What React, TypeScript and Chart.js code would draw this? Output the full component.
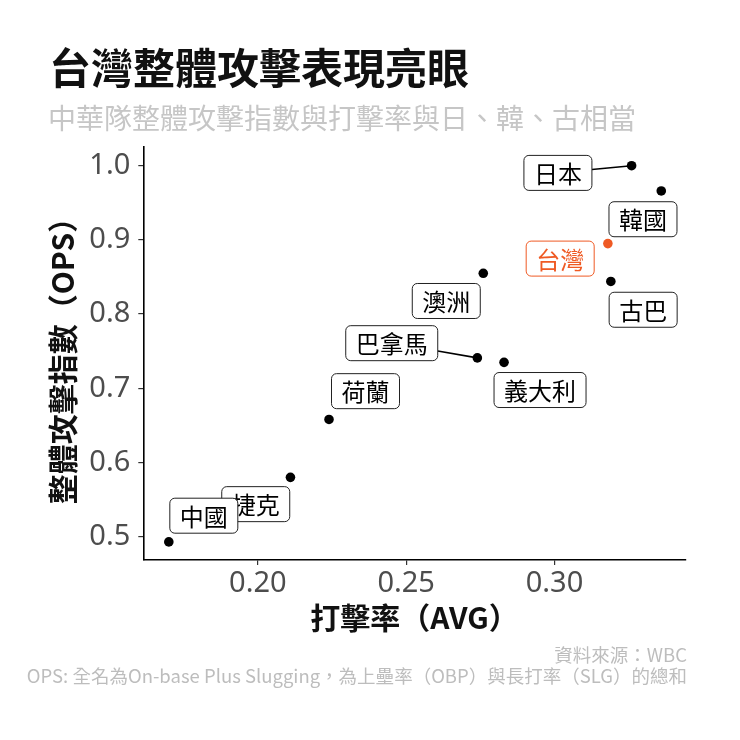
import React, { useEffect, useRef } from "react";
import { Chart, registerables } from "chart.js";

Chart.register(...registerables);

// WBC team batting: AVG vs OPS
const teams = ["日本", "韓國", "台灣", "古巴", "澳洲", "巴拿馬", "義大利", "荷蘭", "捷克", "中國"];
const avg = [0.326, 0.336, 0.318, 0.319, 0.276, 0.274, 0.283, 0.224, 0.211, 0.170];
const ops = [1.0, 0.966, 0.895, 0.844, 0.855, 0.741, 0.735, 0.658, 0.58, 0.493];
const highlight = "台灣";

const xTicks = [0.2, 0.25, 0.3];
const yTicks = [0.5, 0.6, 0.7, 0.8, 0.9, 1.0];

// label box offsets from the point (px), like ggrepel placed them
const labelOffsets: [number, number][] = [
  [-73.7, 7.2],
  [-18.3, 28.3],
  [-47.7, 15],
  [32.3, 28.3],
  [-37, 27.7],
  [-85.6, -14.7],
  [36, 27.7],
  [36.5, -28.3],
  [-34.7, 26.8],
  [35, -26.2],
];
const withSegment = ["日本", "巴拿馬"];

const ORANGE = "#EF5A24";
const CJK = "'Noto Sans CJK TC', 'Noto Sans', sans-serif";
const LABEL_FONT = `24px ${CJK}`;
const BOX_H = 35;

function boxFor(ctx: CanvasRenderingContext2D, i: number, px: number, py: number) {
  ctx.font = LABEL_FONT;
  const w = ctx.measureText(teams[i]).width + 20;
  const cx = px + labelOffsets[i][0];
  const cy = py + labelOffsets[i][1];
  return { cx, cy, w, h: BOX_H };
}

const labelPlugin = {
  id: "repelLabels",
  beforeDatasetsDraw(chart: any) {
    const { ctx, scales } = chart;
    ctx.save();
    teams.forEach((t, i) => {
      if (!withSegment.includes(t)) return;
      const px = scales.x.getPixelForValue(avg[i]);
      const py = scales.y.getPixelForValue(ops[i]);
      const b = boxFor(ctx, i, px, py);
      const dx = px - b.cx;
      const dy = py - b.cy;
      const s = Math.min(Math.abs(b.w / 2 / dx), Math.abs(b.h / 2 / dy));
      ctx.beginPath();
      ctx.moveTo(b.cx + dx * s, b.cy + dy * s);
      ctx.lineTo(px, py);
      ctx.strokeStyle = "#000";
      ctx.lineWidth = 1.6;
      ctx.stroke();
    });
    ctx.restore();
  },
  afterDatasetsDraw(chart: any) {
    const { ctx, scales } = chart;
    ctx.save();
    teams.forEach((t, i) => {
      const px = scales.x.getPixelForValue(avg[i]);
      const py = scales.y.getPixelForValue(ops[i]);
      const b = boxFor(ctx, i, px, py);
      const col = t === highlight ? ORANGE : "#000";
      ctx.beginPath();
      ctx.roundRect(b.cx - b.w / 2, b.cy - b.h / 2, b.w, b.h, 5);
      ctx.fillStyle = "#fff";
      ctx.fill();
      ctx.lineWidth = 1;
      ctx.strokeStyle = t === highlight ? ORANGE : "#222";
      ctx.stroke();
      ctx.fillStyle = col;
      ctx.textAlign = "center";
      ctx.textBaseline = "middle";
      ctx.fillText(t, b.cx, b.cy + 1);
    });
    ctx.restore();
  },
  afterDraw(chart: any) {
    const { ctx, chartArea } = chart;
    ctx.save();
    ctx.textBaseline = "middle";
    // title & subtitle
    ctx.textAlign = "left";
    ctx.fillStyle = "#111";
    ctx.font = `bold 42px ${CJK}`;
    ctx.fillText("台灣整體攻擊表現亮眼", 49, 68);
    ctx.fillStyle = "#c6c6c6";
    ctx.font = `28px ${CJK}`;
    ctx.fillText("中華隊整體攻擊指數與打擊率與日、韓、古相當", 48, 118);
    // axis titles
    ctx.fillStyle = "#111";
    ctx.font = `bold 30px ${CJK}`;
    ctx.textAlign = "center";
    ctx.fillText("打擊率（AVG）", (chartArea.left + chartArea.right) / 2, 618);
    ctx.save();
    ctx.translate(63, (chartArea.top + chartArea.bottom) / 2);
    ctx.rotate(-Math.PI / 2);
    ctx.fillText("整體攻擊指數（OPS）", 0, 0);
    ctx.restore();
    // caption
    ctx.textAlign = "right";
    ctx.fillStyle = "#bdbdbd";
    ctx.font = `18.5px ${CJK}`;
    ctx.fillText("資料來源：WBC", 687, 655);
    ctx.fillText("OPS: 全名為On-base Plus Slugging，為上壘率（OBP）與長打率（SLG）的總和", 687, 676);
    ctx.restore();
  },
};

export default function App() {
  const chartRef = useRef<HTMLCanvasElement | null>(null);

  useEffect(() => {
    if (!chartRef.current) {
      return;
    }
    const tickFont = { family: "'Noto Sans', sans-serif", size: 29 };
    const chartInstance = new Chart(chartRef.current, {
      type: "scatter",
      data: {
        datasets: [
          {
            data: avg.map((a, i) => ({ x: a, y: ops[i] })),
            backgroundColor: teams.map((t) => (t === highlight ? ORANGE : "#000")),
            borderWidth: 0,
            pointRadius: 4.8,
            pointHoverRadius: 4.8,
          },
        ],
      },
      options: {
        animation: false,
        responsive: false,
        devicePixelRatio: 1,
        layout: { padding: { top: 147, right: 54.4, left: 0, bottom: 0 } },
        plugins: {
          legend: { display: false },
          tooltip: { enabled: false },
        },
        scales: {
          x: {
            type: "linear",
            min: 0.1614,
            max: 0.3442,
            afterBuildTicks: (s: any) => {
              s.ticks = xTicks.map((v) => ({ value: v }));
            },
            afterFit: (s: any) => {
              s.height = 180;
            },
            ticks: {
              font: tickFont,
              color: "#4d4d4d",
              padding: 1,
              maxRotation: 0,
              callback: (v: any) => Number(v).toFixed(2),
            },
            grid: { drawOnChartArea: false, tickLength: 5, color: "#333", lineWidth: 1.2 },
            border: { color: "#000", width: 1.6 },
          },
          y: {
            type: "linear",
            min: 0.4686,
            max: 1.0252,
            afterBuildTicks: (s: any) => {
              s.ticks = yTicks.map((v) => ({ value: v }));
            },
            afterFit: (s: any) => {
              s.width = 143.3;
            },
            ticks: {
              font: tickFont,
              color: "#4d4d4d",
              padding: 8,
              callback: (v: any) => Number(v).toFixed(1),
            },
            grid: { drawOnChartArea: false, tickLength: 5, color: "#333", lineWidth: 1.2 },
            border: { color: "#000", width: 1.6 },
          },
        },
      },
      plugins: [labelPlugin],
    } as any);
    return () => {
      chartInstance.destroy();
    };
  }, [chartRef]);

  return (
    <div style={{ position: "absolute", left: 0, top: 0, width: 740, height: 740, background: "#fff" }}>
      <canvas ref={chartRef} width={740} height={740}></canvas>
    </div>
  );
}
